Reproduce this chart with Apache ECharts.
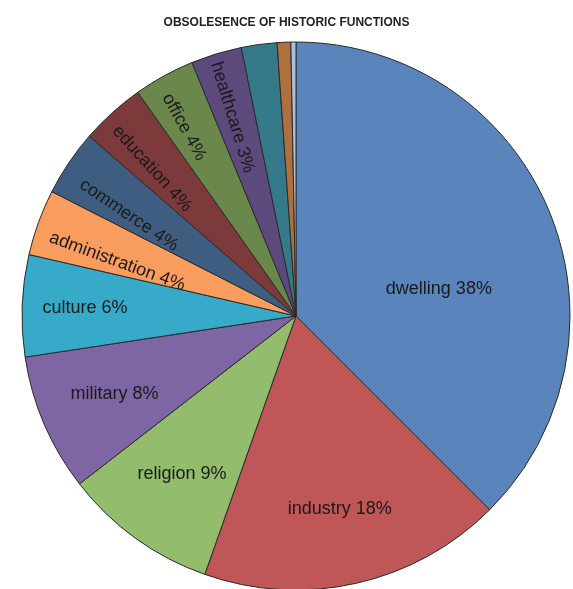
<!DOCTYPE html>
<html>
<head>
<meta charset="utf-8">
<script src="https://cdn.jsdelivr.net/npm/echarts@6/dist/echarts.min.js"></script>
<style>html,body{margin:0;padding:0;background:#fff}#c{width:573px;height:589px}</style>
</head>
<body>
<div id="c"></div>
<script>
const titleText = 'OBSOLESENCE OF HISTORIC FUNCTIONS';
const categories = ['dwelling','industry','religion','military','culture','administration','commerce','education','office','healthcare','other1','other2','other3'];
const values = [37.5, 17.9, 9.1, 8.1, 6.0, 3.9, 3.9, 3.8, 3.6, 3.0, 2.1, 0.8, 0.3];
const colors = ['#5A84BC','#BF5657','#93BC6C','#7E65A4','#36AAC8','#F99D5E','#3F5D80','#7C3A3A','#6A884B','#5B4A7B','#347A8B','#B0703E','#A9C0E0'];
// label style: show, rotate radial, radial distance (fraction of radius), angle shift (deg), perpendicular offset (px)
const labelShow   = [1,1,1,1,1,1,1,1,1,1,0,0,0];
const labelRadial = [0,0,0,0,0,1,1,1,1,1,0,0,0];
const labelDist   = [0.52,0.71,0.70,0.71,0.76,0.67,0.70,0.74,0.79,0.75,0.5,0.5,0.5];
const labelShift  = [12,0,0,0,0,0,0,0,0,0,0,0,0];
const labelPerp   = [0,0,0,0,0,10,10,8,7,3,0,0,0];

const R = 274;
const total = values.reduce((a,b)=>a+b,0);
const mids = [];
let cum = 0;
values.forEach(v => { mids.push((cum + v/2)/total); cum += v; });

const chart = echarts.init(document.getElementById('c'), null, {renderer:'canvas'});
chart.setOption({
  animation: false,
  title: {
    text: titleText, left: 'center', top: 12,
    textStyle: {fontFamily: 'Liberation Sans, Arial, sans-serif', fontSize: 12, fontWeight: 'bold', color: '#222'}
  },
  series: [{
    type: 'pie',
    center: [296, 316],
    radius: [0, R],
    startAngle: 90,
    clockwise: true,
    avoidLabelOverlap: false,
    itemStyle: {borderColor: '#2a2a2a', borderWidth: 1},
    label: {
      position: 'inside',
      fontFamily: 'Liberation Sans, Arial, sans-serif',
      fontSize: 18,
      color: '#1a1a1a',
      formatter: p => p.name + ' ' + Math.round(p.percent) + '%'
    },
    labelLine: {show: false},
    emphasis: {disabled: true},
    labelLayout: function (p) {
      const i = p.dataIndex;
      const d = labelDist[i] * R;
      if (labelRadial[i]) {
        // offset is in the label's rotated frame; text runs from rim toward centre on the left half
        const th0 = mids[i] * 2 * Math.PI;
        const sgn = Math.sin(th0) < 0 ? -1 : 1;
        return {dx: sgn * (d - R/2), dy: labelPerp[i]};
      }
      const th = (mids[i] * 360 + labelShift[i]) * Math.PI / 180;
      const th0 = mids[i] * 2 * Math.PI;
      const x0 = R/2 * Math.sin(th0), y0 = -R/2 * Math.cos(th0);
      const x1 = d * Math.sin(th), y1 = -d * Math.cos(th);
      return {dx: x1 - x0, dy: y1 - y0};
    },
    data: categories.map((c, i) => ({
      name: c,
      value: values[i],
      itemStyle: {color: colors[i]},
      label: {show: !!labelShow[i], rotate: labelRadial[i] ? 'radial' : 0}
    }))
  }]
});
</script>
</body>
</html>
